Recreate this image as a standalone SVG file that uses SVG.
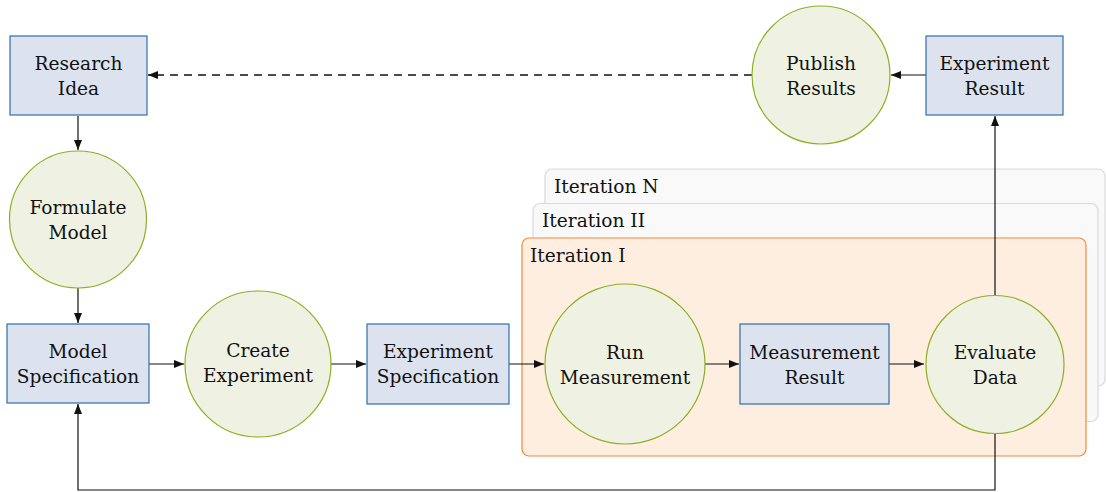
<svg xmlns="http://www.w3.org/2000/svg" width="1106" height="492" viewBox="0 0 1106 492">
  <style>
    text { font-family: "DejaVu Serif", "Liberation Serif", serif; font-size: 18.6px; fill: #111; text-anchor: middle; }
    .panel-label { text-anchor: start; }
    .box { fill: #dce3ef; stroke: #2f6fa8; stroke-width: 1.2; }
    .proc { fill: #eff2e3; stroke: #8fae24; stroke-width: 1.2; }
    .iter-back { fill: #f9f9f9; stroke: #d9d9d9; stroke-width: 1.2; }
    .iter-front { fill: #fdeee0; stroke: #f08a3c; stroke-width: 1.2; }
    .edge { fill: none; stroke: #111; stroke-width: 1.2; marker-end: url(#arrow); }
    .dashed { stroke-dasharray: 8 6; stroke-width: 1.3; }
  </style>
  <defs>
    <marker id="arrow" viewBox="0 0 10 8" refX="10" refY="4" markerWidth="10" markerHeight="8" markerUnits="userSpaceOnUse" orient="auto">
      <path d="M0,0 L10,4 L0,8 Z" fill="#111"/>
    </marker>
  </defs>

  <!-- stacked iteration panels -->
  <g id="iteration-n">
    <rect class="iter-back" x="545" y="169" width="560" height="217" rx="7"/>
    <text class="panel-label" x="554" y="193">Iteration N</text>
  </g>
  <g id="iteration-ii">
    <rect class="iter-back" x="533" y="203.5" width="565" height="218" rx="7"/>
    <text class="panel-label" x="542" y="227">Iteration II</text>
  </g>
  <g id="iteration-i">
    <rect class="iter-front" x="522" y="238" width="564" height="218" rx="7"/>
    <text class="panel-label" x="530" y="262">Iteration I</text>
  </g>

  <!-- connectors -->
  <g id="connectors">
    <path class="edge" d="M78,116 V150"/>
    <path class="edge" d="M78,288 V323"/>
    <path class="edge" d="M149,364 H184"/>
    <path class="edge" d="M331,364 H366"/>
    <path class="edge" d="M509,364 H544"/>
    <path class="edge" d="M705,364 H739"/>
    <path class="edge" d="M889,364 H924"/>
    <path class="edge" d="M995,296 V116"/>
    <path class="edge" d="M926,75 H891"/>
    <path class="edge dashed" d="M752,75 H148"/>
    <path class="edge" d="M995,433 V490 H78 V404"/>
  </g>

  <!-- nodes -->
  <g id="research-idea">
    <rect class="box" x="10" y="36" width="137" height="79"/>
    <text x="78.5" y="70">Research</text>
    <text x="78.5" y="95">Idea</text>
  </g>
  <g id="formulate-model">
    <circle class="proc" cx="78" cy="219.5" r="68.5"/>
    <text x="78" y="214">Formulate</text>
    <text x="78" y="239">Model</text>
  </g>
  <g id="model-specification">
    <rect class="box" x="7" y="324" width="142" height="79"/>
    <text x="78" y="358">Model</text>
    <text x="78" y="383">Specification</text>
  </g>
  <g id="create-experiment">
    <circle class="proc" cx="258" cy="364" r="73"/>
    <text x="258" y="357">Create</text>
    <text x="258" y="382">Experiment</text>
  </g>
  <g id="experiment-specification">
    <rect class="box" x="367" y="324" width="142" height="80"/>
    <text x="438" y="358">Experiment</text>
    <text x="438" y="383">Specification</text>
  </g>
  <g id="run-measurement">
    <circle class="proc" cx="625" cy="364" r="80"/>
    <text x="625" y="359">Run</text>
    <text x="625" y="384">Measurement</text>
  </g>
  <g id="measurement-result">
    <rect class="box" x="740" y="324" width="149" height="80"/>
    <text x="814.5" y="359">Measurement</text>
    <text x="814.5" y="384">Result</text>
  </g>
  <g id="evaluate-data">
    <circle class="proc" cx="995" cy="364.5" r="69"/>
    <text x="995" y="359">Evaluate</text>
    <text x="995" y="384">Data</text>
  </g>
  <g id="experiment-result">
    <rect class="box" x="926" y="36" width="137" height="79"/>
    <text x="994.5" y="70">Experiment</text>
    <text x="994.5" y="95">Result</text>
  </g>
  <g id="publish-results">
    <circle class="proc" cx="821" cy="75" r="69"/>
    <text x="821" y="70">Publish</text>
    <text x="821" y="95">Results</text>
  </g>
</svg>
